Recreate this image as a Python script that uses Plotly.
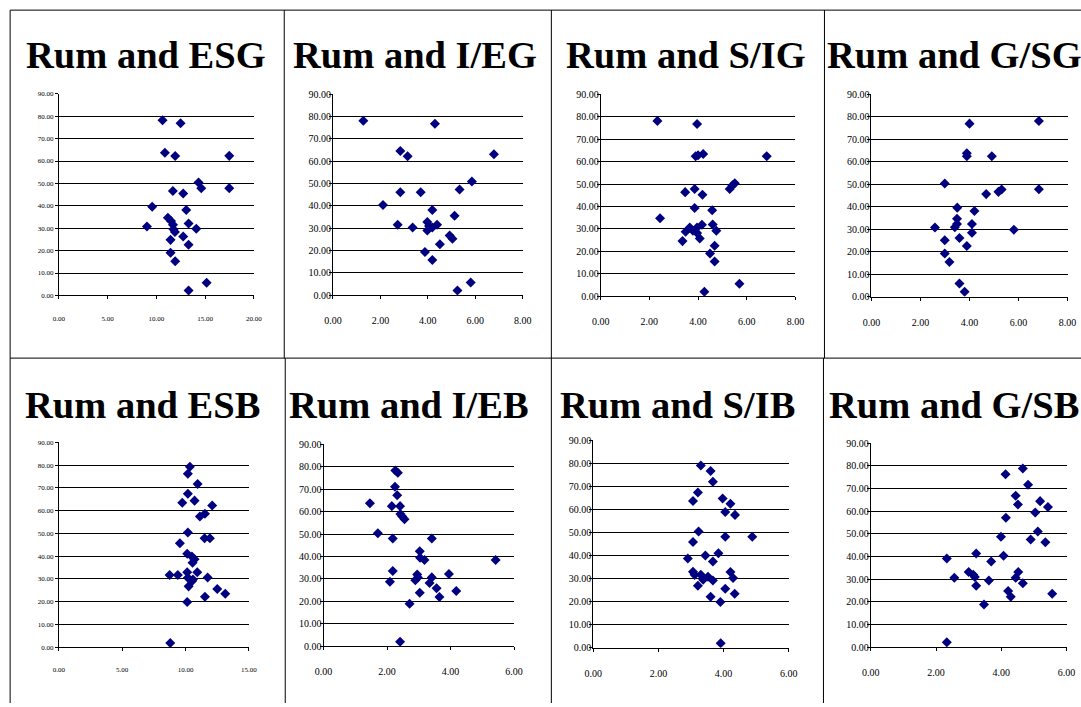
import plotly.graph_objects as go

# Empirical page mapping: rendered = SCALE * (figure_px + MARGIN)
SCALE = 0.983
MARGIN = 8
W, H = 1084, 703

# ---------------- data ----------------
titles = ["Rum and ESG", "Rum and I/EG", "Rum and S/IG", "Rum and G/SG",
          "Rum and ESB", "Rum and I/EB", "Rum and S/IB", "Rum and G/SB"]

esg_x = [10.63, 12.48, 10.87, 11.93, 17.47, 14.32, 14.6, 17.47, 11.69, 12.75, 9.57, 13.06, 11.18, 9.03,
         11.5, 11.7, 11.75, 11.9, 13.3, 14.09, 11.45, 12.75, 13.3, 11.45, 11.93, 15.15, 13.3]
esg_y = [78.2, 76.9, 63.7, 62.2, 62.3, 50.4, 47.8, 47.9, 46.6, 45.5, 39.6, 38.1, 34.7, 30.8,
         33.2, 31.5, 29.5, 28.3, 32.1, 29.8, 24.8, 26.3, 22.6, 19.0, 15.3, 5.7, 2.2]

ieg_x = [1.28, 4.30, 2.84, 3.15, 6.79, 5.86, 5.34, 2.84, 3.70, 2.11, 4.19, 5.13, 2.73, 3.98,
         3.36, 4.39, 3.98, 4.19, 4.05, 4.92, 5.04, 4.51, 3.88, 4.19, 5.81, 5.25]
ieg_y = [78.1, 76.7, 64.5, 62.2, 63.1, 50.9, 47.3, 46.1, 46.1, 40.4, 38.1, 35.5, 31.5, 32.7,
         30.3, 31.5, 28.9, 30.3, 31.0, 26.7, 25.2, 22.8, 19.3, 15.7, 5.7, 2.1]

sig_x = [2.33, 3.96, 3.90, 4.00, 4.21, 6.82, 5.30, 5.41, 5.51, 3.47, 3.86, 4.18, 3.86, 4.58, 2.44,
         3.36, 3.49, 3.66, 3.79, 3.96, 4.07, 3.96, 4.16, 4.60, 4.75, 4.49, 4.68, 4.68, 5.70, 4.26]
sig_y = [78.1, 76.7, 62.4, 62.8, 63.4, 62.4, 47.8, 49.4, 50.4, 46.4, 47.8, 45.2, 39.3, 38.3, 34.8,
         24.6, 28.8, 30.7, 29.2, 28.2, 25.8, 30.7, 31.9, 32.0, 29.2, 19.1, 22.5, 15.5, 5.6, 2.1]

gsg_x = [4.00, 6.83, 3.89, 3.89, 4.91, 2.99, 4.68, 5.18, 5.31, 6.83, 3.50, 4.20, 3.49, 2.59,
         3.49, 3.40, 4.10, 4.10, 5.81, 2.99, 3.59, 3.89, 2.99, 3.18, 3.59, 3.80]
gsg_y = [76.9, 78.1, 63.7, 62.4, 62.4, 50.3, 45.6, 46.6, 47.7, 47.8, 39.6, 38.1, 34.7, 30.8,
         32.3, 30.9, 32.3, 28.4, 29.8, 25.1, 26.1, 22.6, 19.2, 15.5, 5.9, 2.2]

esb_x = [10.34, 10.18, 10.95, 10.18, 10.71, 9.74, 12.10, 11.13, 11.53, 10.18, 11.50, 11.92, 9.55,
         10.13, 10.50, 10.71, 10.55, 8.74, 9.39, 10.13, 10.92, 10.18, 10.50, 10.24, 10.58, 11.74,
         12.50, 13.13, 11.53, 10.13, 8.79]
esb_y = [79.3, 76.2, 71.7, 67.4, 64.4, 63.5, 62.3, 57.4, 58.6, 50.4, 47.9, 47.9, 45.7,
         41.0, 39.8, 38.6, 37.1, 31.7, 31.7, 32.9, 32.9, 30.5, 29.0, 26.7, 29.7, 30.6,
         25.5, 23.5, 22.1, 19.8, 1.8]

ieb_x = [2.26, 2.34, 2.25, 2.32, 1.46, 2.15, 2.41, 2.42, 2.48, 2.55, 1.71, 2.18, 3.41, 3.03, 3.04,
         3.18, 5.42, 2.18, 2.09, 2.95, 2.97, 2.89, 3.41, 3.34, 3.95, 3.56, 3.65, 4.18, 3.03, 2.71, 2.41]
ieb_y = [78.3, 77.3, 71.0, 67.2, 63.7, 62.4, 62.4, 58.9, 57.8, 56.6, 50.3, 48.0, 48.0, 42.3, 39.4,
         38.4, 38.4, 33.5, 28.8, 32.0, 30.7, 29.4, 30.7, 28.2, 32.2, 25.9, 22.0, 24.6, 23.9, 19.0, 2.1]

sib_x = [3.30, 3.60, 3.67, 3.21, 3.06, 3.97, 4.21, 4.05, 4.35, 3.23, 3.06, 4.05, 4.88, 2.90, 3.44,
         3.67, 3.84, 3.06, 3.11, 3.30, 3.37, 3.52, 3.67, 3.21, 4.21, 4.29, 4.05, 4.34, 3.60, 3.90, 3.91]
sib_y = [79.0, 76.6, 72.0, 67.3, 63.6, 64.7, 62.4, 58.8, 57.6, 50.4, 45.8, 48.1, 48.1, 38.7, 40.0,
         37.4, 41.0, 32.9, 31.6, 31.6, 29.5, 30.8, 29.2, 26.9, 32.8, 30.2, 25.6, 23.4, 22.1, 19.8, 2.0]

gsb_x = [4.66, 4.13, 4.82, 4.44, 4.51, 5.19, 5.43, 5.04, 4.14, 5.12, 3.99, 4.90, 5.35, 2.33, 3.23,
         3.69, 4.07, 2.56, 3.00, 3.14, 3.19, 3.23, 3.62, 4.52, 4.44, 4.66, 4.21, 4.29, 5.56, 3.47, 2.33]
gsb_y = [78.8, 76.3, 71.6, 66.8, 62.9, 64.4, 61.8, 59.4, 57.1, 51.0, 48.7, 47.5, 46.3, 39.1, 41.3,
         37.8, 40.3, 30.6, 33.1, 31.9, 30.9, 27.1, 29.4, 33.1, 30.6, 28.2, 24.7, 22.2, 23.5, 18.8, 2.1]

xs = [esg_x, ieg_x, sig_x, gsg_x, esb_x, ieb_x, sib_x, gsb_x]
ys = [esg_y, ieg_y, sig_y, gsg_y, esb_y, ieb_y, sib_y, gsb_y]
x_max = [20, 8, 8, 8, 15, 6, 6, 6]
x_dtick = [5, 2, 2, 2, 5, 2, 2, 2]
y_max = 90
y_dtick = 10

# ---------------- layout (target picture pixels) ----------------
# plot areas: (left, right, top, bottom)
areas = [(57.7, 252.7, 95.7, 297.3), (331.7, 521.3, 96, 297), (599.3, 794, 96, 298.3), (870, 1066, 96, 298.7),
         (57.7, 247.7, 444.3, 649), (322.3, 512.7, 446, 648.3), (592, 787.3, 442, 649.7), (869.3, 1065, 445, 649)]
tick_font = [7, 10, 10, 10, 7, 10, 10, 10]
title_pos = [(23, 57), (290, 57), (563, 57), (824, 57), (22, 407), (286, 407), (557, 407), (826, 407)]


def px(x):
    return (x / SCALE - MARGIN) / W


def py(y):
    return 1 - (y / SCALE - MARGIN) / H


NAVY = "#000080"
SERIF = "Liberation Serif, Times New Roman, serif"

fig = go.Figure()
for i in range(8):
    n = "" if i == 0 else str(i + 1)
    fig.add_trace(go.Scatter(
        x=xs[i], y=ys[i], mode="markers", xaxis="x" + n, yaxis="y" + n,
        marker=dict(symbol="diamond", size=7.7, color=NAVY, line=dict(width=0)),
        hoverinfo="x+y"))
    l, r, t, b = areas[i]
    fs = tick_font[i]
    fig.layout["xaxis" + n] = dict(
        domain=[px(l), px(r)], range=[0, x_max[i]], anchor="y" + n, dtick=x_dtick[i], tick0=0,
        tickformat=".2f", showgrid=False, zeroline=False, showline=True, linecolor="black",
        linewidth=1, ticks="outside", ticklen=3, tickcolor="black",
        tickfont=dict(family=SERIF, size=fs, color="black"), ticklabelstandoff=13, fixedrange=True)
    fig.layout["yaxis" + n] = dict(
        domain=[py(b), py(t)], range=[0, y_max], anchor="x" + n, dtick=y_dtick, tick0=0,
        tickformat=".2f", showgrid=True, gridcolor="black", gridwidth=1, zeroline=False,
        showline=True, linecolor="black", linewidth=1, ticks="outside", ticklen=3, tickcolor="black",
        tickfont=dict(family=SERIF, size=fs, color="black"),
        ticklabelstandoff=(0 if fs < 9 else -4), fixedrange=True)
    tx, ty = title_pos[i]
    fig.add_annotation(text="<b>" + titles[i] + "</b>", xref="paper", yref="paper",
                       x=px(tx), y=py(ty), xanchor="left", yanchor="middle", showarrow=False,
                       font=dict(family=SERIF, size=38.5, color="black"))


# cell borders
def line(x0, y0, x1, y1):
    fig.add_shape(type="line", xref="paper", yref="paper",
                  x0=px(x0), y0=py(y0), x1=px(x1), y1=py(y1),
                  line=dict(color="black", width=1))


line(9, 12, 1081, 12)
line(9, 360, 1081, 360)
for vx in [9, 283, 550, 823]:
    line(vx, 12, vx, 360)
for vx in [9, 284, 550, 822]:
    line(vx, 360, vx, 707)

fig.update_layout(width=W, height=H, margin=dict(l=0, r=0, t=0, b=0),
                  paper_bgcolor="white", plot_bgcolor="white", showlegend=False)

fig.write_html("out.html")
